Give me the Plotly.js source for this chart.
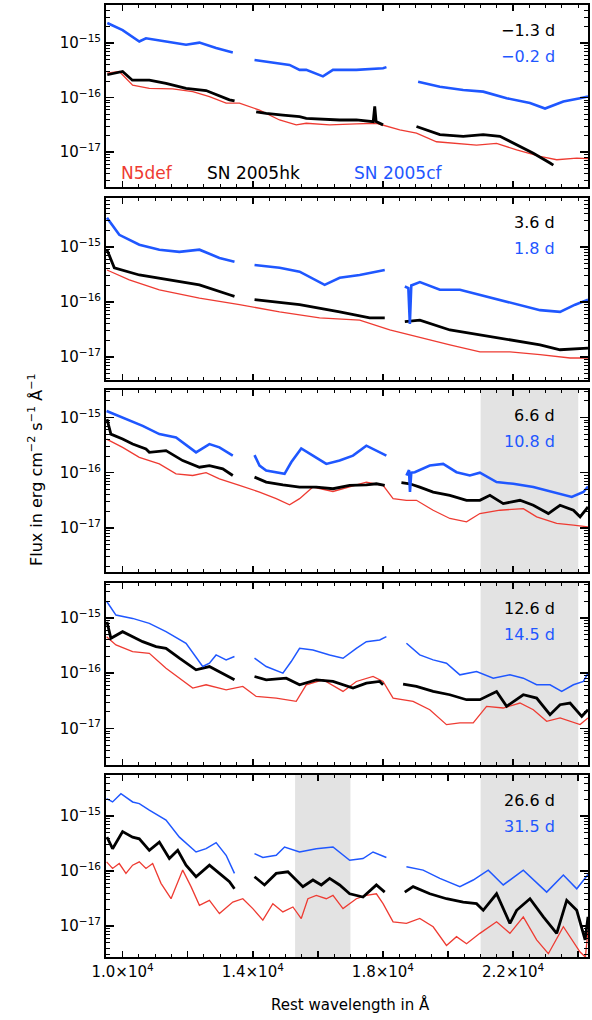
<!DOCTYPE html>
<html><head><meta charset="utf-8">
<script src="https://cdn.plot.ly/plotly-3.0.1.min.js"></script>
<style>html,body{margin:0;padding:0;background:#fff}#chart{width:592px;height:1020px}</style>
</head><body><div id="chart"></div>
<script>
// ---- Data: wavelength (Å) and log10 flux (erg cm^-2 s^-1 Å^-1); null = gap ----
// Panel 1 (SN 2005hk -1.3 d, SN 2005cf -0.2 d)
const p1_n5def_wl = [9530, 9900, 10308, 10821, 11539, 12155, 12668, 13181, 13591, 14207, 14822, 15130, 15335, 15643, 16361, 17182, 17798, 18516, 19030, 19645, 20260, 20876, 21491, 22107, 22825, 23338, 23954, 24300];
const p1_n5def_lf = [-15.55, -15.52, -15.77, -15.83, -15.84, -15.89, -15.98, -16.10, -16.10, -16.23, -16.41, -16.47, -16.50, -16.47, -16.50, -16.48, -16.47, -16.59, -16.65, -16.81, -16.84, -16.87, -16.84, -16.96, -17.08, -17.14, -17.11, -17.12];
const p1_hk_wl = [9530, 10000, 10300, 10821, 11334, 11950, 12565, 13283, 13440, null, 14104, 14412, 14925, 15438, 15643, 16156, 16669, 17182, 17700, 17747, 17790, 18003, null, 19030, 19748, 20465, 21080, 21595, 22107, 22620, 23133, 23235];
const p1_hk_lf = [-15.58, -15.52, -15.68, -15.68, -15.74, -15.83, -15.87, -16.04, -16.06, null, -16.26, -16.29, -16.32, -16.35, -16.38, -16.40, -16.41, -16.41, -16.44, -16.16, -16.44, -16.50, null, -16.53, -16.68, -16.71, -16.68, -16.71, -16.87, -17.02, -17.20, -17.24];
const p1_cf_wl = [9530, 10000, 10513, 10718, 11334, 11950, 12360, 12873, 13386, null, 14053, 14720, 15130, 15438, 15643, 16156, 16464, 17182, 18003, 18107, null, 19080, 19748, 20465, 21080, 21800, 22517, 22980, 23543, 24057, 24300];
const p1_cf_lf = [-14.63, -14.76, -14.97, -14.91, -14.97, -15.03, -14.99, -15.09, -15.17, null, -15.31, -15.37, -15.40, -15.49, -15.49, -15.61, -15.49, -15.49, -15.46, -15.44, null, -15.71, -15.80, -15.86, -15.89, -16.01, -16.10, -16.20, -16.07, -16.01, -15.98];

// Panel 2 (3.6 d / 1.8 d)
const p2_n5def_wl = [9520, 10206, 11130, 12361, 13592, 14823, 16054, 17285, 18209, 19134, 20056, 20980, 21903, 22827, 23750, 24300];
const p2_n5def_lf = [-15.42, -15.60, -15.78, -15.93, -16.05, -16.18, -16.29, -16.33, -16.51, -16.65, -16.78, -16.91, -16.91, -16.96, -17.02, -17.02];
const p2_hk_wl = [9520, 9745, 10514, 11437, 12361, 13284, 13438, null, 14054, 15439, 16670, 17593, 18055, null, 18672, 19134, 20056, 20980, 21903, 22827, 23442, 24300];
const p2_hk_lf = [-15.05, -15.38, -15.51, -15.60, -15.69, -15.87, -15.90, null, -15.96, -16.05, -16.18, -16.29, -16.29, null, -16.36, -16.33, -16.51, -16.60, -16.69, -16.78, -16.87, -16.84];
const p2_cf_wl = [9520, 9898, 10514, 11130, 11745, 12361, 12976, 13438, null, 14054, 14823, 15439, 15900, 16208, 16670, 17285, 18055, null, 18672, 18780, 18826, 18870, 19134, 19749, 20364, 20980, 21596, 22211, 22827, 23442, 23904, 24300];
const p2_cf_lf = [-14.47, -14.78, -14.96, -15.05, -15.09, -15.05, -15.20, -15.27, null, -15.33, -15.38, -15.45, -15.60, -15.69, -15.56, -15.51, -15.42, null, -15.72, -15.75, -16.40, -15.70, -15.64, -15.78, -15.78, -15.87, -15.96, -16.05, -16.15, -16.18, -16.05, -15.96];

// Panel 3 (6.6 d / 10.8 d)
const p3_n5def_wl = [9508, 10000, 10513, 11129, 11642, 12155, 12565, 12975, 13591, 14207, 14720, 15130, 15438, 15848, 16464, 16977, 17490, 18003, 18311, 18721, 19029, 19542, 20055, 20568, 20978, 21594, 22312, 22722, 23338, 23852, 24300];
const p3_n5def_lf = [-15.39, -15.54, -15.72, -15.84, -16.02, -16.05, -16.00, -16.11, -16.23, -16.35, -16.47, -16.58, -16.47, -16.26, -16.34, -16.26, -16.17, -16.23, -16.47, -16.50, -16.50, -16.68, -16.83, -16.89, -16.74, -16.68, -16.65, -16.80, -16.92, -16.95, -16.98];
const p3_hk_wl = [9520, 9641, 10000, 10308, 10718, 10821, 11334, 11847, 12360, 12668, 13078, 13386, null, 14053, 14412, 14925, 15438, 15951, 16464, 16977, 17490, 17798, 18054, null, 18567, 18823, 19131, 19542, 20055, 20568, 20978, 21286, 21696, 22209, 22620, 23082, 23441, 23852, 24057, 24262, 24300];
const p3_hk_lf = [-15.03, -15.30, -15.39, -15.48, -15.57, -15.63, -15.60, -15.78, -15.90, -15.87, -15.93, -16.05, null, -16.08, -16.17, -16.22, -16.26, -16.26, -16.29, -16.23, -16.22, -16.20, -16.23, null, -16.18, -16.20, -16.26, -16.35, -16.41, -16.50, -16.50, -16.41, -16.56, -16.50, -16.59, -16.74, -16.59, -16.68, -16.80, -16.65, -16.62];
const p3_cf_wl = [9508, 10000, 10616, 11129, 11642, 12257, 12668, 12975, 13386, null, 14053, 14207, 14412, 14976, 15181, 15489, 15848, 16259, 16669, 17079, 17490, 17798, 18105, null, 18721, 18800, 18830, 18870, 18977, 19439, 19850, 20260, 20670, 20978, 21491, 22004, 22620, 23235, 23800, 24159, 24300];
const p3_cf_lf = [-14.88, -15.00, -15.15, -15.30, -15.36, -15.63, -15.48, -15.54, -15.69, null, -15.68, -15.87, -15.96, -16.02, -15.81, -15.56, -15.69, -15.84, -15.78, -15.69, -15.51, -15.60, -15.69, null, -16.05, -15.95, -16.35, -16.00, -15.99, -15.87, -15.84, -15.99, -16.05, -16.00, -16.17, -16.20, -16.26, -16.35, -16.44, -16.35, -16.25];

// Panel 4 (12.6 d / 14.5 d)
const p4_n5def_wl = [9508, 9795, 10308, 10821, 11334, 11745, 12155, 12565, 13181, 13694, 14104, 14720, 15335, 15643, 16156, 16772, 17182, 17695, 18003, 18311, 18926, 19439, 19952, 20363, 20773, 21184, 21696, 22209, 22620, 23030, 23441, 24057, 24300];
const p4_n5def_lf = [-15.34, -15.49, -15.61, -15.64, -15.91, -16.09, -16.27, -16.21, -16.30, -16.24, -16.42, -16.45, -16.51, -16.21, -16.12, -16.33, -16.15, -16.06, -16.15, -16.45, -16.51, -16.66, -16.93, -16.90, -16.90, -16.60, -16.63, -16.54, -16.66, -16.87, -16.81, -16.93, -16.81];
const p4_hk_wl = [9520, 9641, 10000, 10308, 10616, 11027, 11334, 11745, 12257, 12668, 13078, 13437, null, 14053, 14412, 15027, 15438, 15951, 16464, 17079, 17490, 17900, 18003, null, 18618, 19029, 19542, 20055, 20568, 20978, 21491, 21799, 22312, 22722, 23133, 23441, 23749, 24108, 24300];
const p4_hk_lf = [-15.07, -15.37, -15.25, -15.34, -15.43, -15.52, -15.55, -15.73, -15.94, -15.88, -16.00, -16.12, null, -16.06, -16.12, -16.09, -16.21, -16.12, -16.15, -16.27, -16.18, -16.15, -16.21, null, -16.20, -16.24, -16.33, -16.39, -16.48, -16.48, -16.33, -16.60, -16.39, -16.45, -16.75, -16.57, -16.54, -16.78, -16.66];
const p4_cf_wl = [9508, 9795, 10308, 10821, 11334, 11949, 12462, 12668, 12873, 13181, 13437, null, 14053, 14412, 14925, 15181, 15438, 15848, 16361, 16772, 17182, 17490, 17900, 18105, null, 18721, 19131, 19542, 19952, 20363, 20876, 21389, 21901, 22312, 22722, 23133, 23492, 23852, 24159, 24300];
const p4_cf_lf = [-14.70, -14.95, -15.01, -15.10, -15.25, -15.46, -15.88, -15.82, -15.67, -15.76, -15.70, null, -15.73, -15.88, -16.00, -15.79, -15.55, -15.58, -15.67, -15.73, -15.55, -15.43, -15.40, -15.34, null, -15.46, -15.67, -15.76, -15.82, -16.03, -15.97, -16.09, -16.03, -16.09, -16.21, -16.21, -16.33, -16.21, -16.15, -16.00];

// Panel 5 (26.6 d / 31.5 d)
const p5_n5def_wl = [9508, 9692, 9897, 10103, 10308, 10513, 10718, 10924, 11180, 11488, 11847, 12103, 12360, 12668, 12975, 13386, 13694, 14001, 14309, 14617, 14925, 15233, 15489, 15694, 15951, 16259, 16464, 16772, 17182, 17490, 17798, 18003, 18311, 18721, 19131, 19542, 19952, 20260, 20568, 20978, 21491, 21901, 22312, 22722, 23082, 23543, 24057, 24220, 24300];
const p5_n5def_lf = [-15.83, -15.95, -15.86, -16.04, -15.89, -15.83, -15.95, -15.86, -16.22, -16.50, -15.98, -16.28, -16.62, -16.53, -16.77, -16.56, -16.50, -16.68, -16.89, -16.59, -16.74, -16.65, -16.86, -16.50, -16.44, -16.50, -16.44, -16.68, -16.50, -16.44, -16.41, -16.59, -16.92, -16.95, -16.86, -17.01, -17.35, -17.19, -17.32, -17.13, -16.92, -17.13, -16.83, -17.25, -17.50, -17.01, -17.47, -17.56, -17.07];
const p5_hk_wl = [9520, 9692, 10000, 10308, 10513, 10821, 11129, 11437, 11694, 11949, 12257, 12668, 12975, 13283, 13437, null, 14053, 14360, 14720, 15079, 15540, 15848, 16105, 16361, 16669, 16977, 17387, 17798, 18054, null, 18670, 18926, 19439, 19952, 20465, 20876, 21081, 21491, 21901, 22107, 22517, 22928, 23338, 23646, 23954, 24211, 24300];
const p5_hk_lf = [-15.38, -15.59, -15.28, -15.38, -15.41, -15.62, -15.47, -15.77, -15.62, -15.89, -16.10, -15.89, -16.04, -16.19, -16.32, null, -16.10, -16.25, -16.04, -16.01, -16.28, -16.16, -16.25, -16.13, -16.25, -16.41, -16.47, -16.25, -16.38, null, -16.38, -16.28, -16.41, -16.50, -16.56, -16.59, -16.71, -16.41, -16.95, -16.71, -16.50, -16.83, -17.13, -16.53, -16.71, -17.25, -16.83];
const p5_cf_wl = [9508, 9692, 9949, 10308, 10513, 10821, 11334, 11745, 12257, 12565, 12873, 13181, 13437, null, 14053, 14309, 14720, 14976, 15438, 15951, 16464, 16977, 17387, 17695, 18105, null, 18721, 19234, 19747, 20363, 20773, 21235, 21696, 22312, 23030, 23543, 23954, 24300];
const p5_cf_lf = [-14.68, -14.74, -14.59, -14.74, -14.77, -14.89, -15.07, -15.38, -15.65, -15.59, -15.48, -15.71, -16.04, null, -15.68, -15.75, -15.71, -15.56, -15.65, -15.59, -15.56, -15.80, -15.77, -15.65, -15.75, null, -15.92, -15.98, -16.13, -16.28, -16.16, -15.98, -16.25, -15.98, -16.38, -16.07, -16.32, -16.06];

// Epoch labels
const hkEpochs = ['\u22121.3 d', '3.6 d', '6.6 d', '12.6 d', '26.6 d'];
const cfEpochs = ['\u22120.2 d', '1.8 d', '10.8 d', '14.5 d', '31.5 d'];
const seriesNames = ['N5def', 'SN 2005hk', 'SN 2005cf'];

// x ticks
const xTickVals = [10000, 12000, 14000, 16000, 18000, 20000, 22000, 24000];
const xTickText = ['1.0\u00d710<sup>4</sup>', '', '1.4\u00d710<sup>4</sup>', '', '1.8\u00d710<sup>4</sup>', '', '2.2\u00d710<sup>4</sup>', ''];
const yTickVals = [1e-17, 1e-16, 1e-15];
const yTickText = ['10<sup>\u221217</sup>', '10<sup>\u221216</sup>', '10<sup>\u221215</sup>'];

// Shaded regions per panel [start, end] in Å
const shades = [[], [], [[21000, 24000]], [[21000, 24000]], [[15300, 17000], [21000, 24000]]];

// ---- Build ----
const RED = '#ee3b32', BLACK = '#000000', BLUE = '#1f57ff';
const panels = [
  [p1_n5def_wl, p1_n5def_lf, p1_hk_wl, p1_hk_lf, p1_cf_wl, p1_cf_lf],
  [p2_n5def_wl, p2_n5def_lf, p2_hk_wl, p2_hk_lf, p2_cf_wl, p2_cf_lf],
  [p3_n5def_wl, p3_n5def_lf, p3_hk_wl, p3_hk_lf, p3_cf_wl, p3_cf_lf],
  [p4_n5def_wl, p4_n5def_lf, p4_hk_wl, p4_hk_lf, p4_cf_wl, p4_cf_lf],
  [p5_n5def_wl, p5_n5def_lf, p5_hk_wl, p5_hk_lf, p5_cf_wl, p5_cf_lf]
];
const yRanges = [[-17.64, -14.30], [-17.42, -14.11], [-17.80, -14.50], [-17.66, -14.37], [-17.56, -14.25]];
const panelTopPx = [5, 198, 390, 583, 775];
const panelBotPx = [187, 380, 572, 765, 957];
const blueW = [2.6, 2.6, 2.6, 1.5, 1.5];

// pixel -> paper helpers (plot area: x 106..588, y 5..957)
const px2x = px => (px - 106) / 482;
const px2y = py => (957 - py) / 952;
const domains = panelTopPx.map((t, i) => [px2y(panelBotPx[i]), px2y(t)]);

const toFlux = a => a.map(v => v === null ? null : Math.pow(10, v));
const traces = [];
panels.forEach((p, i) => {
  const xa = 'x' + (i + 1), ya = 'y' + (i + 1);
  traces.push({x: p[0], y: toFlux(p[1]), xaxis: xa, yaxis: ya, mode: 'lines', name: seriesNames[0], line: {color: RED, width: 1.3}, connectgaps: false, showlegend: false});
  traces.push({x: p[2], y: toFlux(p[3]), xaxis: xa, yaxis: ya, mode: 'lines', name: seriesNames[1], line: {color: BLACK, width: 2.8}, connectgaps: false, showlegend: false});
  traces.push({x: p[4], y: toFlux(p[5]), xaxis: xa, yaxis: ya, mode: 'lines', name: seriesNames[2], line: {color: BLUE, width: blueW[i]}, connectgaps: false, showlegend: false});
});

const minorY = [];
for (let d = -18; d <= -14; d++) for (let m = 2; m <= 9; m++) minorY.push(m * Math.pow(10, d));

const FONT = 'DejaVu Sans, Liberation Sans, sans-serif';
const layout = {
  width: 592, height: 1020,
  margin: {l: 106, r: 4, t: 5, b: 63},
  paper_bgcolor: '#fff', plot_bgcolor: 'rgba(0,0,0,0)',
  font: {family: FONT, size: 14, color: '#000'},
  showlegend: false,
  shapes: [], annotations: []
};
const ann = (px, py, text, size, color, extra) => Object.assign({
  xref: 'paper', yref: 'paper', x: px2x(px), y: px2y(py), xanchor: 'center', yanchor: 'middle',
  text: text, showarrow: false, font: {family: FONT, size: size, color: color}
}, extra || {});

for (let i = 0; i < 5; i++) {
  const n = i + 1;
  layout['xaxis' + (n === 1 ? '' : n)] = {
    domain: [0, 1], anchor: 'y' + n, range: [9490, 24300], type: 'linear',
    showline: true, linewidth: 2, linecolor: '#000', mirror: 'allticks',
    ticks: 'inside', ticklen: 6, tickwidth: 1.5, tickcolor: '#000',
    tickmode: 'array', tickvals: xTickVals, ticktext: xTickText,
    showticklabels: i === 4, tickfont: {family: FONT, size: 15},
    minor: {dtick: 500, tick0: 0, ticklen: 3, tickwidth: 1, ticks: 'inside', tickcolor: '#000', showgrid: false},
    showgrid: false, zeroline: false, layer: 'above traces'
  };
  layout['yaxis' + (n === 1 ? '' : n)] = {
    domain: domains[i], anchor: 'x' + n, type: 'log', range: yRanges[i],
    showline: true, linewidth: 2, linecolor: '#000', mirror: 'allticks',
    ticks: 'inside', ticklen: 8, tickwidth: 1.5, tickcolor: '#000',
    tickmode: 'array', tickvals: yTickVals, ticktext: yTickText,
    tickfont: {family: FONT, size: 15},
    minor: {tickmode: 'array', tickvals: minorY, ticklen: 4, tickwidth: 1, ticks: 'inside', tickcolor: '#000', showgrid: false},
    showgrid: false, zeroline: false, layer: 'above traces'
  };
  shades[i].forEach(s => layout.shapes.push({
    type: 'rect', xref: 'x' + n, yref: 'y' + n + ' domain', x0: s[0], x1: s[1], y0: 0, y1: 1,
    fillcolor: '#e3e3e3', line: {width: 0}, layer: 'below'
  }));
  const top = panelTopPx[i];
  layout.annotations.push(ann(557, top + 25, hkEpochs[i], 16, BLACK, {xanchor: 'right'}));
  layout.annotations.push(ann(557, top + 51, cfEpochs[i], 16, BLUE, {xanchor: 'right'}));
}
// series labels in panel 1
layout.annotations.push(ann(147, 173, seriesNames[0], 17, RED));
layout.annotations.push(ann(253, 173, seriesNames[1], 17, BLACK));
layout.annotations.push(ann(398, 173, seriesNames[2], 17, BLUE));
// axis titles
layout.annotations.push(ann(350, 1004, 'Rest wavelength in \u00c5', 15, BLACK));
layout.annotations.push(ann(35, 470, 'Flux in erg cm<sup>\u22122</sup> s<sup>\u22121</sup> \u00c5<sup>\u22121</sup>', 16, BLACK, {textangle: -90}));

Plotly.newPlot('chart', traces, layout, {displayModeBar: false, staticPlot: true});
</script></body></html>
